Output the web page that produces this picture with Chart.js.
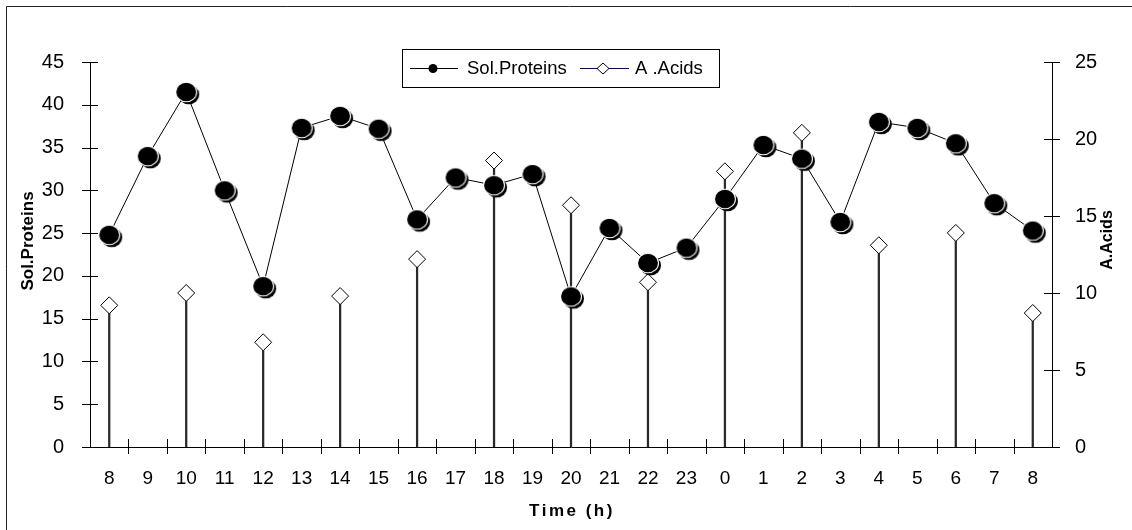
<!DOCTYPE html>
<html><head><meta charset="utf-8">
<script src="https://cdn.jsdelivr.net/npm/chart.js@4/dist/chart.umd.min.js"></script>
<style>html,body{margin:0;padding:0;background:#fff}#wrap{width:1132px;height:530px;position:relative}</style>
</head><body><div id="wrap"><canvas id="c" width="1132" height="530"></canvas></div>
<script>
const hours = ['8','9','10','11','12','13','14','15','16','17','18','19','20','21','22','23','0','1','2','3','4','5','6','7','8'];
const solProteins = [24.8, 34.0, 41.5, 30.0, 18.8, 37.3, 38.7, 37.2, 26.6, 31.5, 30.6, 31.9, 17.6, 25.6, 21.5, 23.3, 29.0, 35.3, 33.7, 26.3, 38.0, 37.3, 35.5, 28.5, 25.3];
const aminoAcids = [9.2, null, 10.0, null, 6.8, null, 9.8, null, 12.2, null, 18.6, null, 15.7, null, 10.7, null, 17.9, null, 20.4, null, 13.1, null, 13.9, null, 8.7];
const leftTicks = [0,5,10,15,20,25,30,35,40,45];
const rightTicks = [0,5,10,15,20,25];
const seriesNames = ['Sol.Proteins', 'A .Acids'];
const axisTitles = {left: 'Sol.Proteins', right: 'A.Acids', bottom: 'Time (h)'};

const FONT = "'Liberation Sans', Arial, sans-serif";

// 3D-looking circle marker
function makeBall() {
  const c = document.createElement('canvas');
  c.width = 34; c.height = 34;
  const g = c.getContext('2d');
  g.fillStyle = '#000';
  g.beginPath(); g.ellipse(19.5, 19.5, 10.5, 9.8, 0, 0, Math.PI*2); g.fill();
  g.beginPath(); g.ellipse(17, 17, 10.5, 9.8, 0, 0, Math.PI*2); g.fill();
  g.strokeStyle = '#fff'; g.lineWidth = 1.1; g.stroke();
  return c;
}
const ball = makeBall();

const decorPlugin = {
  id: 'decor',
  afterDraw(chart) {
    const ctx = chart.ctx;
    const xs = chart.scales.x, yl = chart.scales.y, yr = chart.scales.y2;
    ctx.save();
    ctx.strokeStyle = '#000';
    ctx.lineWidth = 1;
    leftTicks.forEach(v => {
      const y = Math.round(yl.getPixelForValue(v)) + 0.5;
      ctx.beginPath(); ctx.moveTo(yl.right - 8, y); ctx.lineTo(yl.right + 8, y); ctx.stroke();
    });
    rightTicks.forEach(v => {
      const y = Math.round(yr.getPixelForValue(v)) + 0.5;
      ctx.beginPath(); ctx.moveTo(yr.left - 8, y); ctx.lineTo(yr.left + 8, y); ctx.stroke();
    });
    const n = hours.length;
    const step = (xs.right - xs.left) / n;
    for (let i = 1; i < n; i++) {
      const x = Math.round(xs.left + i * step) + 0.5;
      ctx.beginPath(); ctx.moveTo(x, xs.top - 8); ctx.lineTo(x, xs.top + 7); ctx.stroke();
    }
    ctx.fillStyle = '#000';
    ctx.textAlign = 'center';
    ctx.textBaseline = 'middle';
    ctx.font = 'bold 17px ' + FONT;
    ctx.save();
    ctx.translate(28, 241);
    ctx.rotate(-Math.PI/2);
    ctx.fillText(axisTitles.left, 0, 0);
    ctx.restore();
    ctx.save();
    ctx.font = 'bold 16px ' + FONT;
    ctx.translate(1108, 240);
    ctx.rotate(-Math.PI/2);
    ctx.fillText(axisTitles.right, 0, 0);
    ctx.restore();
    ctx.save();
    ctx.letterSpacing = '2.5px';
    ctx.fillText(axisTitles.bottom, (xs.left + xs.right)/2 + 1, 511);
    ctx.restore();
    const lx = 402, ly = 49, lw = 317, lh = 38, cy = ly + lh/2;
    ctx.strokeStyle = '#000';
    ctx.strokeRect(lx + 0.5, ly + 0.5, lw, lh);
    ctx.beginPath(); ctx.moveTo(410, cy + 0.5); ctx.lineTo(458, cy + 0.5); ctx.stroke();
    ctx.fillStyle = '#000';
    ctx.beginPath(); ctx.arc(433, cy + 0.5, 4.5, 0, Math.PI*2); ctx.fill();
    ctx.strokeStyle = '#000080';
    ctx.beginPath(); ctx.moveTo(580, cy + 0.5); ctx.lineTo(629, cy + 0.5); ctx.stroke();
    ctx.fillStyle = '#fff'; ctx.strokeStyle = '#000';
    ctx.beginPath();
    ctx.moveTo(603, cy - 5); ctx.lineTo(609, cy + 0.5); ctx.lineTo(603, cy + 6); ctx.lineTo(597, cy + 0.5); ctx.closePath();
    ctx.fill(); ctx.stroke();
    ctx.fillStyle = '#000';
    ctx.textAlign = 'left';
    ctx.font = '18.5px ' + FONT;
    ctx.fillText(seriesNames[0], 467, cy + 1);
    ctx.fillText(seriesNames[1], 635, cy + 1);
    ctx.strokeStyle = '#222';
    ctx.beginPath(); ctx.moveTo(6.5, 530); ctx.lineTo(6.5, 6.5); ctx.lineTo(1132, 6.5); ctx.stroke();
    ctx.restore();
  }
};

new Chart(document.getElementById('c'), {
  data: {
    labels: hours,
    datasets: [
      {
        type: 'bar', label: seriesNames[1] + ' stems', data: aminoAcids, yAxisID: 'y2',
        backgroundColor: '#2a2a2a', barThickness: 1.6, order: 3
      },
      {
        type: 'line', label: seriesNames[1], data: aminoAcids, yAxisID: 'y2', showLine: false,
        pointStyle: 'rectRot', pointRadius: 8.5, pointBackgroundColor: '#fff',
        pointBorderColor: '#000', pointBorderWidth: 1, order: 2
      },
      {
        type: 'line', label: seriesNames[0], data: solProteins, yAxisID: 'y',
        borderColor: '#000', borderWidth: 1, tension: 0,
        pointStyle: ball, pointRadius: 12, order: 1
      }
    ]
  },
  options: {
    responsive: false,
    animation: false,
    events: [],
    layout: {padding: {top: 62, left: 0, right: 0, bottom: 0}},
    plugins: {legend: {display: false}, tooltip: {enabled: false}},
    scales: {
      x: {
        type: 'category', offset: true,
        grid: {display: false},
        border: {display: true, color: '#000', width: 1},
        ticks: {color: '#000', font: {family: FONT, size: 19}, padding: 12, maxRotation: 0, autoSkip: false},
        afterFit(s) { s.height = 83; }
      },
      y: {
        position: 'left', min: 0, max: 45,
        grid: {display: false},
        border: {display: true, color: '#000', width: 1},
        ticks: {stepSize: 5, color: '#000', font: {family: FONT, size: 20}, padding: 18},
        afterBuildTicks(s) { s.ticks = leftTicks.map(v => ({value: v})); },
        afterFit(s) { s.width = 90; }
      },
      y2: {
        position: 'right', min: 0, max: 25,
        grid: {display: false},
        border: {display: true, color: '#000', width: 1},
        ticks: {stepSize: 5, color: '#000', font: {family: FONT, size: 20}, padding: 15},
        afterBuildTicks(s) { s.ticks = rightTicks.map(v => ({value: v})); },
        afterFit(s) { s.width = 80; }
      }
    }
  },
  plugins: [decorPlugin]
});
</script>
</body></html>
